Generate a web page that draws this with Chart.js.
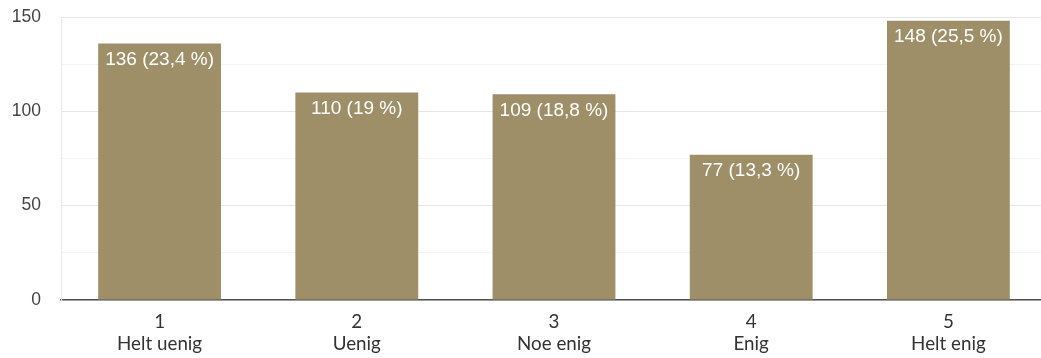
<!DOCTYPE html>
<html>
<head>
<meta charset="utf-8">
<script src="https://cdn.jsdelivr.net/npm/chart.js@4/dist/chart.umd.min.js"></script>
<style>
  html, body { margin: 0; padding: 0; background: #fff; overflow: hidden; }
  #wrap { width: 1048px; height: 358px; }
</style>
</head>
<body>
<div id="wrap"><canvas id="c" width="1048" height="358"></canvas></div>
<script>
// Survey answers on a 1-5 agreement scale
const scaleNumbers = ['1', '2', '3', '4', '5'];
const scaleNames = ['Helt uenig', 'Uenig', 'Noe enig', 'Enig', 'Helt enig'];
const counts = [136, 110, 109, 77, 148];
const shares = ['23,4', '19', '18,8', '13,3', '25,5'];
const yTicks = [0, 50, 100, 150];

const barColor = '#9f8f68';

// Count and share written in white near the top of each bar
const valueLabels = {
  id: 'valueLabels',
  afterDatasetsDraw(chart) {
    const ctx = chart.ctx;
    const meta = chart.getDatasetMeta(0);
    ctx.save();
    ctx.fillStyle = '#ffffff';
    ctx.font = '19px "Liberation Sans", Arial, sans-serif';
    ctx.textAlign = 'center';
    ctx.textBaseline = 'middle';
    meta.data.forEach((bar, i) => {
      ctx.fillText(counts[i] + ' (' + shares[i] + ' %)', bar.x, bar.y + 16);
    });
    ctx.restore();
  }
};

new Chart(document.getElementById('c'), {
  type: 'bar',
  data: {
    labels: scaleNumbers.map((n, i) => [n, scaleNames[i]]),
    datasets: [{
      data: counts,
      backgroundColor: barColor,
      borderWidth: 0,
      categoryPercentage: 1,
      barPercentage: 0.623
    }]
  },
  options: {
    responsive: false,
    animation: false,
    layout: { padding: { top: 17, right: 1, bottom: 0, left: 0 } },
    plugins: {
      legend: { display: false },
      tooltip: { enabled: false }
    },
    scales: {
      x: {
        grid: { display: false, drawTicks: false },
        border: { display: true, color: '#555555', width: 1.5 },
        ticks: {
          padding: 10,
          color: '#333333',
          font: { family: 'Lato, "Liberation Sans", sans-serif', size: 18.8, lineHeight: 1.22 },
          maxRotation: 0,
          autoSkip: false
        },
        afterFit(scale) {
          scale.height = 58;
          scale.paddingLeft = 0;
          scale.paddingRight = 0;
        }
      },
      y: {
        min: 0,
        max: yTicks[yTicks.length - 1],
        border: { display: true, color: '#e8e8e8', width: 1 },
        grid: {
          drawTicks: false,
          color: (ctx) => (yTicks.includes(ctx.tick.value) ? '#e6e6e6' : '#f4f4f4'),
          lineWidth: 1
        },
        ticks: {
          stepSize: 25,
          padding: 20,
          color: '#444444',
          font: { family: '"Liberation Sans", Arial, sans-serif', size: 17.5 },
          callback: (v) => (yTicks.includes(v) ? String(v) : '')
        },
        afterFit(scale) {
          scale.width = 61;
          scale.paddingTop = 0;
          scale.paddingBottom = 0;
        }
      }
    }
  },
  plugins: [valueLabels]
});
</script>
</body>
</html>
